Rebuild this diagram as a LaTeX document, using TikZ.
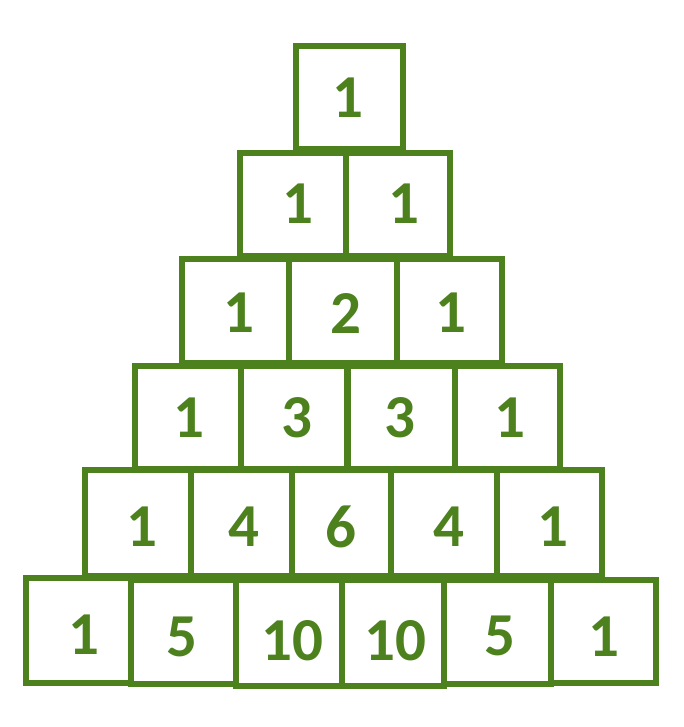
\documentclass[tikz,border=0pt]{standalone}
\usepackage{fontspec}
\setmainfont{Carlito}
\definecolor{pgreen}{RGB}{76,129,30}
\begin{document}
\begin{tikzpicture}[x=1pt,y=-1pt,
  cell/.style={draw=pgreen,line width=6.5pt,fill=none,inner sep=0pt,outer sep=0pt},
  num/.style={text=pgreen,font=\fontsize{61}{61}\selectfont\bfseries,inner sep=0pt}]
\useasboundingbox (0,0) rectangle (683,727);
% boxes: \bx{name}{x1}{y1}{x2}{y2}
\newcommand{\bx}[5]{\node[cell,minimum width={#4-#2},minimum height={#5-#3}] (#1) at ({(#2+#4)/2},{(#3+#5)/2}) {};}
% row 0
\bx{b00}{296}{46}{403}{149}
% row 1
\bx{b10}{240}{153}{346}{256}
\bx{b11}{346}{153}{450}{256}
% row 2
\bx{b20}{182}{259}{289}{363}
\bx{b21}{289}{259}{397}{363}
\bx{b22}{397}{259}{502}{363}
% row 3
\bx{b30}{135}{366}{241}{469}
\bx{b31}{241}{366}{347.5}{469}
\bx{b32}{347.5}{366}{455}{469}
\bx{b33}{455}{366}{560}{469}
% row 4
\bx{b40}{85}{470}{191}{576}
\bx{b41}{191}{470}{292}{576}
\bx{b42}{292}{470}{391}{576}
\bx{b43}{391}{470}{497}{576}
\bx{b44}{497}{470}{602}{576}
% row 5
\bx{b50}{26}{578}{131}{683}
\bx{b51}{131}{580}{236}{684}
\bx{b52}{236}{580}{342}{686}
\bx{b53}{342}{580}{444}{686}
\bx{b54}{444}{580}{551}{684}
\bx{b55}{551}{580}{656}{683}
% numbers
\node[num] (n00) at (347.5,97.5) {1};
\node[num] (n10) at (297.5,203.5) {1};
\node[num] (n11) at (404,203.5) {1};
\node[num] (n20) at (239,313) {1};
\node[num] (n21) at (346,313) {2};
\node[num] (n22) at (450.5,313) {1};
\node[num] (n30) at (189,418) {1};
\node[num] (n31) at (297,418) {3};
\node[num] (n32) at (400,418) {3};
\node[num] (n33) at (509.7,418) {1};
\node[num] (n40) at (141.7,527) {1};
\node[num] (n41) at (244,527) {4};
\node[num] (n42) at (341,527) {6};
\node[num] (n43) at (448.5,527) {4};
\node[num] (n44) at (552.5,527) {1};
\node[num] (n50) at (83.7,635) {1};
\node[num] (n51) at (181.7,637) {5};
\node[num] (n52) at (292,641) {10};
\node[num] (n53) at (395.3,641) {10};
\node[num] (n54) at (500,636) {5};
\node[num] (n55) at (604,637) {1};
\end{tikzpicture}
\end{document}
